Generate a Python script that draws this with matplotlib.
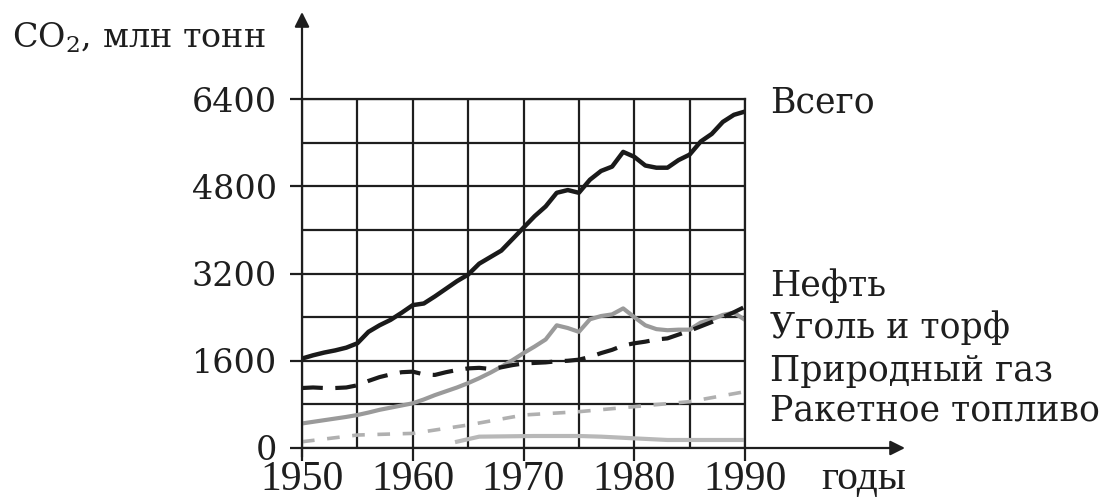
import matplotlib
matplotlib.use("Agg")
import matplotlib.pyplot as plt

plt.rcParams['font.family'] = ['DejaVu Serif']
plt.rcParams['mathtext.fontset'] = 'dejavuserif'

INK = '#1e1e1e'

# annual emissions, mln t
years = list(range(1950, 1991))
total = [1640, 1700, 1750, 1790, 1840, 1920, 2130, 2250, 2350, 2480,
         2620, 2650, 2780, 2920, 3060, 3180, 3380, 3500, 3620, 3830,
         4040, 4250, 4430, 4680, 4730, 4680, 4920, 5080, 5160, 5430,
         5340, 5180, 5140, 5140, 5280, 5380, 5620, 5760, 5980, 6110,
         6170]
oil = [450, 480, 510, 540, 570, 605, 650, 700, 740, 780,
       820, 890, 970, 1040, 1110, 1190, 1280, 1380, 1490, 1610,
       1740, 1860, 1990, 2250, 2200, 2130, 2360, 2420, 2450, 2560,
       2400, 2250, 2180, 2160, 2170, 2170, 2300, 2360, 2440, 2480,
       2350]
coal = [1100, 1110, 1100, 1100, 1110, 1150, 1230, 1300, 1350, 1390,
        1400, 1350, 1340, 1390, 1430, 1460, 1470, 1450, 1480, 1520,
        1550, 1560, 1570, 1590, 1600, 1620, 1670, 1740, 1800, 1880,
        1920, 1950, 1990, 2010, 2080, 2150, 2230, 2310, 2400, 2490,
        2590]
gas_years = [1950, 1955, 1960, 1965, 1970, 1975, 1980, 1985, 1990]
gas = [115, 238, 268, 422, 605, 666, 758, 850, 1033]
fuel_years = [1964, 1966, 1971, 1975, 1977, 1980, 1983, 1990]
fuel = [116, 208, 220, 220, 208, 177, 147, 147]

labels = ['Всего', 'Нефть', 'Уголь и торф', 'Природный газ', 'Ракетное топливо']
label_y = [6330, 2970, 2200, 1410, 680]

fig = plt.figure(figsize=(11.06, 4.97), dpi=100)
ax = fig.add_axes([302 / 1106, 49 / 497, 443 / 1106, 349 / 497])
ax.set_xlim(1950, 1990)
ax.set_ylim(0, 6400)

ax.set_xticks(range(1950, 1991, 10))
ax.set_xticks(range(1955, 1990, 10), minor=True)
ax.set_yticks(range(0, 6401, 1600))
ax.set_yticks(range(800, 6400, 1600), minor=True)
ax.grid(which='both', color=INK, lw=1.6)
ax.set_axisbelow(True)
ax.tick_params(which='major', direction='out', length=9, width=1.6, color=INK, labelcolor=INK)
ax.tick_params(which='minor', length=0)
ax.tick_params(axis='y', labelsize=24, pad=9)
ax.tick_params(axis='x', pad=0)
for t in ax.get_xticklabels():
    t.set_fontfamily('Liberation Serif')
    t.set_fontsize(30)
for s in ax.spines.values():
    s.set_color(INK)
    s.set_linewidth(1.6)
ax.spines['left'].set_visible(False)
ax.spines['bottom'].set_visible(False)

ax.plot(years, total, color='#1a1a1a', lw=3.2, solid_capstyle='round')
ax.plot(years, oil, color='#9a9a9a', lw=3)
ax.plot(years, coal, color='#1a1a1a', lw=3, dashes=(5, 3))
ax.plot(gas_years, gas, color='#b0b0b0', lw=2.6, dashes=(3.5, 3.5))
ax.plot(fuel_years, fuel, color='#b8b8b8', lw=3)

# axes with arrowheads
arrow = dict(arrowstyle='-|>', lw=1.6, color=INK, mutation_scale=22, shrinkA=0, shrinkB=0)
ax.annotate('', xy=(302, 485), xytext=(302, 40), xycoords='figure pixels',
            textcoords='figure pixels', arrowprops=arrow)
ax.annotate('', xy=(905, 49), xytext=(302, 49), xycoords='figure pixels',
            textcoords='figure pixels', arrowprops=arrow)

for name, y in zip(labels, label_y):
    ax.text(1.056, y, name, transform=ax.get_yaxis_transform(), va='center', ha='left',
            fontsize=25, color=INK)

fig.text(821 / 1106, 18 / 497, 'годы', fontsize=30, family='Liberation Serif',
         color=INK, va='center', ha='left')
fig.text(12 / 1106, 449 / 497, 'CO$_2$, млн тонн', fontsize=24, color=INK, va='baseline', ha='left')

fig.savefig('out.png', dpi=100)
